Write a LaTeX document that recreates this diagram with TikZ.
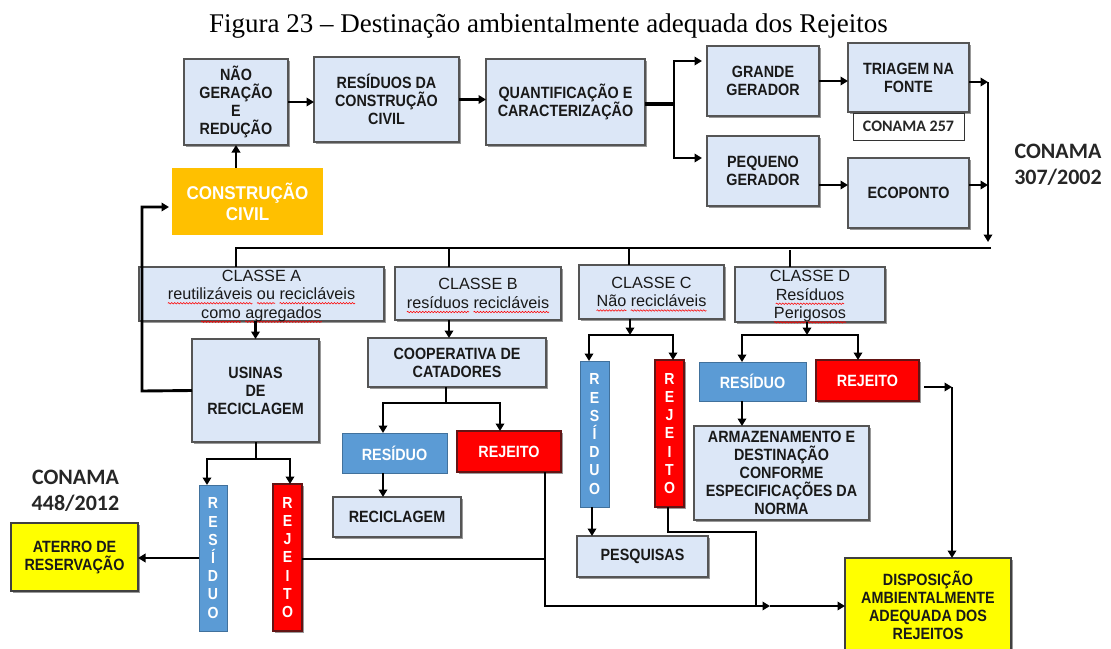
\documentclass[tikz,border=0pt]{standalone}
\usepackage{fontspec}
\setmainfont{Liberation Sans}
\newfontfamily\titlefont{Liberation Serif}
\newfontfamily\calfont{Carlito}
\newfontfamily\narrowfont[FakeStretch=0.88]{Liberation Sans}
\newfontfamily\semifont[FakeStretch=0.92]{Liberation Sans}
\usetikzlibrary{arrows.meta,shadows,decorations.pathmorphing}
\definecolor{boxfill}{RGB}{220,231,247}
\definecolor{boxline}{RGB}{85,85,85}
\definecolor{ccorange}{RGB}{255,192,0}
\definecolor{resblue}{RGB}{91,155,213}
\definecolor{resblueline}{RGB}{65,113,156}
\definecolor{rejred}{RGB}{255,0,0}
\definecolor{rejline}{RGB}{100,20,20}
\definecolor{dispyellow}{RGB}{255,255,0}
% red wavy spell-check underline under a word
\newsavebox\spwbox
\newlength\spwlen
\newcommand\spw[1]{\sbox\spwbox{#1}\setlength\spwlen{\wd\spwbox}%
  \tikz[overlay,baseline=0pt,x=1pt,y=1pt]\draw[red, line width=0.6pt, decorate,
    decoration={snake, amplitude=0.7pt, segment length=3pt}] (0pt,-3.6pt) -- (\spwlen,-3.6pt);%
  \usebox\spwbox}

\begin{document}
\begin{tikzpicture}[x=1pt,y=-1pt,
  base/.style={inner sep=0pt, outer sep=0pt, align=center},
  shad/.style={drop shadow={shadow xshift=2pt, shadow yshift=-2pt, opacity=0.4, fill=black}},
  boldtext/.style={font=\narrowfont\bfseries\fontsize{16.3}{18}\selectfont},
  lbox/.style={base, rectangle, draw=boxline, line width=1.3pt, fill=boxfill, shad,
    boldtext, text=black!90},
  classbox/.style={lbox, font=\fontsize{16.2}{18.5}\selectfont, text depth=-3pt},
  bluebox/.style={base, rectangle, draw=resblueline, line width=0.6pt, fill=resblue,
    boldtext, text=white},
  redbox/.style={base, rectangle, draw=rejline, line width=1.2pt, fill=rejred, shad,
    boldtext, text=white},
  vbar/.style={font=\narrowfont\bfseries\fontsize{16}{18.2}\selectfont},
  yellowbox/.style={base, rectangle, draw=black!75, line width=1.2pt, fill=dispyellow, shad,
    boldtext, text=black!90},
  conama/.style={base, font=\calfont\bfseries\fontsize{22}{26}\selectfont, text=black!85},
  ln/.style={draw, line width=2.9pt},
  arr/.style={ln, -{Triangle[length=7.5pt,width=8.5pt]}}
]
\useasboundingbox (0,0) rectangle (1111,648);

% title
\node[base, anchor=base, font=\titlefont\fontsize{27}{30}\selectfont] (title) at (548.5,32)
  {Figura 23 – Destinação ambientalmente adequada dos Rejeitos};

% upper chain
\node[lbox, minimum width=104pt, minimum height=86pt] (nao) at (236,102) {NÃO\\GERAÇÃO\\E\\REDUÇÃO};
\node[lbox, minimum width=145pt, minimum height=85pt] (rcc) at (386.5,99.5) {RESÍDUOS DA\\CONSTRUÇÃO\\CIVIL};
\node[lbox, minimum width=159pt, minimum height=86pt] (quant) at (565.5,102) {QUANTIFICAÇÃO E\\CARACTERIZAÇÃO};
\node[base, fill=ccorange, minimum width=151pt, minimum height=67pt, text=white, text depth=-4pt,
  font=\semifont\bfseries\fontsize{18.5}{21}\selectfont] (cc) at (247.5,201.5) {CONSTRUÇÃO\\CIVIL};
\node[lbox, minimum width=112pt, minimum height=70pt] (grande) at (763,81) {GRANDE\\GERADOR};
\node[lbox, minimum width=112pt, minimum height=70pt] (pequeno) at (763,171) {PEQUENO\\GERADOR};
\node[lbox, minimum width=121pt, minimum height=69pt] (triagem) at (908.5,77.5) {TRIAGEM NA\\FONTE};
\node[base, draw=black!80, line width=0.8pt, fill=white, minimum width=111pt, minimum height=27pt,
  font=\calfont\bfseries\fontsize{16}{18}\selectfont, text=black!85] (c257) at (908.5,126.5) {CONAMA 257};
\node[lbox, minimum width=121pt, minimum height=70pt] (ecoponto) at (908.5,193) {ECOPONTO};
\node[conama] (c307) at (1058,165) {CONAMA\\307/2002};

% classes
\node[classbox, minimum width=245pt, minimum height=54pt] (classeA) at (261.5,294)
  {CLASSE A\\\spw{reutilizáveis} \spw{ou} \spw{recicláveis}\\\spw{como} \spw{agregados}};
\node[classbox, minimum width=166pt, minimum height=53pt] (classeB) at (478,293.5)
  {CLASSE B\\\spw{resíduos} \spw{recicláveis}};
\node[classbox, minimum width=145pt, minimum height=54pt] (classeC) at (651.5,292)
  {CLASSE C\\\spw{Não} \spw{recicláveis}};
\node[classbox, minimum width=150pt, minimum height=55pt] (classeD) at (810,294.5)
  {CLASSE D\\\spw{Resíduos}\\\spw{Perigosos}};

% class A branch
\node[lbox, minimum width=127pt, minimum height=103pt] (usinas) at (255.5,390.5) {USINAS\\DE\\RECICLAGEM};
\node[bluebox, vbar, minimum width=28pt, minimum height=146pt] (resA) at (213,558) {R\\E\\S\\Í\\D\\U\\O};
\node[redbox, vbar, minimum width=29pt, minimum height=147pt] (rejA) at (287.5,557.5) {R\\E\\J\\E\\I\\T\\O};
\node[yellowbox, minimum width=127pt, minimum height=68pt] (aterro) at (74.5,557) {ATERRO DE\\RESERVAÇÃO};
\node[conama] (c448) at (75.5,491) {CONAMA\\448/2012};

% class B branch
\node[lbox, minimum width=178pt, minimum height=49pt] (coop) at (457,362.5) {COOPERATIVA DE\\CATADORES};
\node[bluebox, minimum width=105pt, minimum height=40pt] (resB) at (394.5,453) {RESÍDUO};
\node[redbox, minimum width=104pt, minimum height=41pt] (rejB) at (509,451.5) {REJEITO};
\node[lbox, minimum width=128pt, minimum height=40pt] (recicl) at (397,517) {RECICLAGEM};

% class C branch
\node[bluebox, vbar, minimum width=29pt, minimum height=146pt] (resC) at (594.5,434) {R\\E\\S\\Í\\D\\U\\O};
\node[redbox, vbar, minimum width=29pt, minimum height=147pt] (rejC) at (669.5,433.5) {R\\E\\J\\E\\I\\T\\O};
\node[lbox, minimum width=131pt, minimum height=41pt] (pesq) at (642.5,556.5) {PESQUISAS};

% class D branch
\node[bluebox, minimum width=107pt, minimum height=39pt] (resD) at (752.5,381.5) {RESÍDUO};
\node[redbox, minimum width=103pt, minimum height=41pt] (rejD) at (867.5,380.5) {REJEITO};
\node[lbox, minimum width=175pt, minimum height=94pt] (armaz) at (781.5,473)
  {ARMAZENAMENTO E\\DESTINAÇÃO\\CONFORME\\ESPECIFICAÇÕES DA\\NORMA};
\node[yellowbox, minimum width=166pt, minimum height=94pt] (disp) at (928,605)
  {DISPOSIÇÃO\\AMBIENTALMENTE\\ADEQUADA DOS\\REJEITOS};

% bend points
\coordinate (fk) at (674,104);
\coordinate (fkt) at (674,61);
\coordinate (fkb) at (674,158);
\coordinate (col) at (988,82);
\coordinate (colm) at (988,185);
\coordinate (colarr) at (988,242);
\coordinate (busR) at (991,248);
\coordinate (busA) at (236,248);
\coordinate (busB) at (449,248);
\coordinate (busC) at (629,248);
\coordinate (busD) at (790,250);
\coordinate (lpb) at (142,391);
\coordinate (lpt) at (142,207);
\coordinate (usj) at (256,459);
\coordinate (usl) at (207,459);
\coordinate (usr) at (290,459);
\coordinate (jB) at (545,559);
\coordinate (bb) at (545,606);
\coordinate (mid) at (770,606);
\coordinate (cpj) at (446,403);
\coordinate (cbl) at (383,403);
\coordinate (cbr) at (500,403);
\coordinate (ccj) at (630,335);
\coordinate (ccl) at (589,335);
\coordinate (ccr) at (673,335);
\coordinate (pqx) at (592,536);
\coordinate (rc1) at (668,532);
\coordinate (rc2) at (756,532);
\coordinate (cdj) at (807,335);
\coordinate (cdl) at (742,335);
\coordinate (cdr) at (858,335);
\coordinate (rd0) at (924,387);
\coordinate (rd) at (952,387);

% upper connectors
\draw[arr] (nao.east) -- (nao.east -| rcc.west);
\draw[arr] (rcc.east) -- (rcc.east -| quant.west);
\draw[ln, line width=4.8pt] (quant.east |- fk) -- (fk);
\draw[arr, shorten >=5pt] (fk) |- (grande.west |- fkt);
\draw[arr, shorten >=5pt] (fk) |- (pequeno.west |- fkb);
\draw[arr] (cc.north -| nao.south) -- (nao.south);
\draw[arr] (grande.east) -- (grande.east -| triagem.west);
\draw[arr] (pequeno.east |- colm) -- (ecoponto.west |- colm);
\draw[arr] (triagem.east |- col) -- (col);
\draw[arr] (ecoponto.east |- colm) -- (colm);
\draw[arr] (col) -- (colarr);

% distribution bus
\draw[ln] (busR) -- (busA) -- (busA |- classeA.north);
\draw[ln] (busB) -- (busB |- classeB.north);
\draw[ln] (busC) -- (busC |- classeC.north);
\draw[ln] (busD) -- (busD |- classeD.north);

% class A
\draw[arr] (classeA.south -| usinas.north) -- (usinas.north);
\draw[arr, shorten >=3pt] (usinas.west) -- (lpb) -- (lpt) -- (cc.west |- lpt);
\draw[ln] (usinas.south -| usj) -- (usj);
\draw[arr] (usj) -| (usl |- resA.north);
\draw[arr] (usj) -| (usr |- rejA.north);
\draw[arr] (resA.west) -- (resA.west -| aterro.east);
\draw[ln] (rejA.east |- jB) -- (jB);

% class B
\draw[arr] (classeB.south -| busB) -- (coop.north -| busB);
\draw[ln] (coop.south -| cpj) -- (cpj);
\draw[arr] (cpj) -| (cbl |- resB.north);
\draw[arr] (cpj) -| (cbr |- rejB.north);
\draw[arr] (cbl |- resB.south) -- (cbl |- recicl.north);
\draw[arr] (jB |- rejB.south) -- (bb) -- (mid);
\draw[arr] (mid) -- (disp.west |- mid);

% class C
\draw[arr] (classeC.south -| ccj) -- (ccj);
\draw[ln] (ccl) -- (ccr);
\draw[arr] (ccj) -| (ccl |- resC.north);
\draw[arr] (ccj) -| (ccr |- rejC.north);
\draw[arr] (resC.south -| pqx) -- (pqx |- pesq.north);
\draw[ln] (rejC.south -| rc1) -- (rc1) -- (rc2) -- (rc2 |- mid);

% class D
\draw[arr] (classeD.south -| cdj) -- (cdj);
\draw[ln] (cdl) -- (cdr);
\draw[arr] (cdj) -| (cdl |- resD.north);
\draw[arr] (cdj) -| (cdr |- rejD.north);
\draw[arr] (cdl |- resD.south) -- (cdl |- armaz.north);
\draw[arr] (rd0) -- (rd);
\draw[arr] (rd) -- (rd |- disp.north);
\end{tikzpicture}
\end{document}
